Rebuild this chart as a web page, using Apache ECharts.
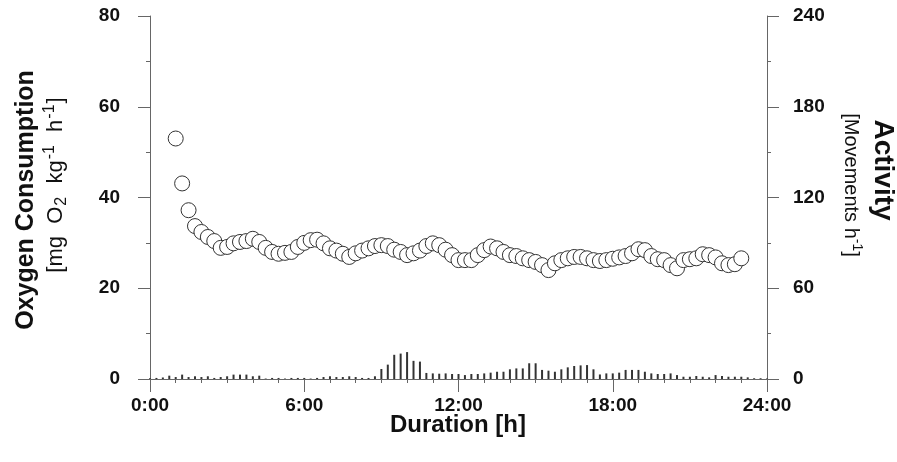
<!DOCTYPE html>
<html>
<head>
<meta charset="utf-8">
<script src="https://cdn.jsdelivr.net/npm/echarts@6/dist/echarts.min.js"></script>
<style>
html,body{margin:0;padding:0;background:#fff;}
#chart{width:897px;height:462px;}
</style>
</head>
<body>
<div id="chart"></div>
<script>
// ---- DATA ----
// Oxygen consumption, sampled every 15 min from 1:00 to 23:00 (mg O2 kg-1 h-1)
const o2StartHour = 1.0;
const o2StepHour = 0.25;
const o2Values = [
  53.0, 43.1, 37.2, 33.7, 32.4, 31.3, 30.4, 28.9, 29.1, 29.9,
  30.2, 30.4, 30.9, 30.2, 28.9, 28.0, 27.6, 27.8, 28.0, 29.1,
  30.0, 30.6, 30.7, 29.9, 28.8, 28.3, 27.6, 26.9, 27.7, 28.3,
  28.8, 29.3, 29.5, 29.3, 28.5, 28.0, 27.3, 27.7, 28.3, 29.3,
  29.9, 29.5, 28.5, 27.3, 26.2, 26.2, 26.2, 27.3, 28.4, 29.2,
  28.8, 28.0, 27.3, 27.1, 26.6, 26.2, 25.8, 25.1, 24.0, 25.5,
  26.2, 26.6, 26.9, 26.9, 26.6, 26.2, 26.0, 26.2, 26.5, 26.8,
  27.1, 27.7, 28.6, 28.4, 27.1, 26.4, 26.2, 25.1, 24.4, 26.2,
  26.4, 26.6, 27.5, 27.3, 26.8, 25.5, 25.1, 25.3, 26.6
];
// Activity, sampled every 15 min from 0:00 to 24:00 (movements h-1)
const actStartHour = 0.0;
const actStepHour = 0.25;
const activityValues = [
  0.5, 0.7, 1.0, 2.2, 1.3, 2.9, 1.3, 1.8, 1.3, 1.8,
  0.7, 1.3, 1.8, 2.9, 2.9, 2.9, 1.8, 2.2, 0.3, 0.7,
  0.7, 0.3, 0.7, 0.7, 0.7, 0.3, 0.7, 1.3, 1.8, 1.3,
  1.3, 1.8, 1.3, 0.7, 0.7, 1.8, 6.6, 9.5, 16.0, 16.8,
  17.8, 12.0, 11.5, 4.0, 3.7, 3.5, 3.7, 3.3, 3.3, 2.6,
  3.3, 3.3, 3.7, 4.2, 4.8, 4.8, 6.4, 7.0, 7.0, 10.4,
  10.4, 6.0, 5.5, 4.8, 6.4, 7.7, 8.6, 9.0, 9.2, 6.4,
  3.0, 3.7, 3.7, 4.2, 6.0, 6.0, 6.0, 4.8, 3.7, 3.3,
  3.3, 3.7, 2.6, 1.5, 1.5, 2.0, 1.5, 1.1, 2.6, 2.0,
  1.5, 1.5, 1.5, 1.1, 0.5, 0.5, 0.3
];
const xTickLabels = ['0:00', '6:00', '12:00', '18:00', '24:00'];
const leftTickLabels = ['0', '20', '40', '60', '80'];
const rightTickLabels = ['0', '60', '120', '180', '240'];

// ---- BUILD ----
const o2Data = o2Values.map((v, i) => [o2StartHour + i * o2StepHour, v]);
const actData = activityValues.map((v, i) => [actStartHour + i * actStepHour, v]);

const FONT = '"Liberation Sans", Arial, Helvetica, sans-serif';
const AX = '#666';

const chart = echarts.init(document.getElementById('chart'), null, {renderer: 'canvas'});
chart.setOption({
  backgroundColor: '#fff',
  animation: false,
  grid: {left: 150, right: 130, top: 16, bottom: 83, containLabel: false},
  xAxis: {
    type: 'value', min: 0, max: 24, interval: 6,
    axisLine: {show: true, onZero: false, lineStyle: {color: AX, width: 1}},
    axisTick: {show: true, inside: false, length: 13, lineStyle: {color: AX, width: 1}},
    minorTick: {show: true, splitNumber: 6, length: 4, lineStyle: {color: AX, width: 1}},
    splitLine: {show: false},
    axisLabel: {
      margin: 17, color: '#111', fontFamily: FONT, fontSize: 19, fontWeight: 'bold',
      formatter: v => xTickLabels[Math.round(v / 6)]
    }
  },
  yAxis: [
    {
      type: 'value', min: 0, max: 80, interval: 20, position: 'left',
      axisLine: {show: true, lineStyle: {color: AX, width: 1}},
      axisTick: {show: true, length: 12, lineStyle: {color: AX, width: 1}},
      minorTick: {show: true, splitNumber: 2, length: 4, lineStyle: {color: AX, width: 1}},
      splitLine: {show: false},
      axisLabel: {
        margin: 30, color: '#111', fontFamily: FONT, fontSize: 19, fontWeight: 'bold',
        formatter: v => leftTickLabels[Math.round(v / 20)]
      }
    },
    {
      type: 'value', min: 0, max: 240, interval: 60, position: 'right',
      axisLine: {show: true, lineStyle: {color: AX, width: 1}},
      axisTick: {show: true, length: 12, lineStyle: {color: AX, width: 1}},
      minorTick: {show: true, splitNumber: 2, length: 4, lineStyle: {color: AX, width: 1}},
      splitLine: {show: false},
      axisLabel: {
        margin: 26, color: '#111', fontFamily: FONT, fontSize: 19, fontWeight: 'bold',
        formatter: v => rightTickLabels[Math.round(v / 60)]
      }
    }
  ],
  series: [
    {
      type: 'bar', yAxisIndex: 1, data: actData, barWidth: 2,
      itemStyle: {color: '#333'}, z: 2
    },
    {
      type: 'scatter', yAxisIndex: 0, data: o2Data, symbol: 'circle', symbolSize: 15,
      itemStyle: {color: '#fff', borderColor: '#333', borderWidth: 1, opacity: 1}, z: 3
    }
  ],
  graphic: [
    {
      type: 'text', x: 26, y: 200, rotation: Math.PI / 2,
      style: {text: 'Oxygen Consumption', fontFamily: FONT, fontSize: 25, fontWeight: 'bold',
              fill: '#111', align: 'center', verticalAlign: 'middle'}
    },
    {
      type: 'text', x: 56, y: 185, rotation: Math.PI / 2,
      style: {
        text: '[mg  O{sub|2}  kg{sup|-1}  h{sup|-1}]',
        fontFamily: FONT, fontSize: 22, fill: '#111', align: 'center', verticalAlign: 'middle',
        lineHeight: 28,
        rich: {
          sub: {fontFamily: FONT, fontSize: 16, fill: '#111', verticalAlign: 'bottom', lineHeight: 16, padding: [0, 1, 0, 1]},
          sup: {fontFamily: FONT, fontSize: 16, fill: '#111', verticalAlign: 'top', lineHeight: 16, padding: [0, 1, 0, 1]}
        }
      }
    },
    {
      type: 'text', x: 883, y: 170, rotation: -Math.PI / 2,
      style: {text: 'Activity', fontFamily: FONT, fontSize: 28, fontWeight: 'bold',
              fill: '#111', align: 'center', verticalAlign: 'middle'}
    },
    {
      type: 'text', x: 851, y: 185, rotation: -Math.PI / 2,
      style: {
        text: '[Movements h{sup|-1}]',
        fontFamily: FONT, fontSize: 20, fill: '#111', align: 'center', verticalAlign: 'middle',
        lineHeight: 26,
        rich: {
          sup: {fontFamily: FONT, fontSize: 14, fill: '#111', verticalAlign: 'top', lineHeight: 14}
        }
      }
    },
    {
      type: 'text', x: 458, y: 425,
      style: {text: 'Duration [h]', fontFamily: FONT, fontSize: 24, fontWeight: 'bold',
              fill: '#111', align: 'center', verticalAlign: 'middle'}
    }
  ]
});
</script>
</body>
</html>
